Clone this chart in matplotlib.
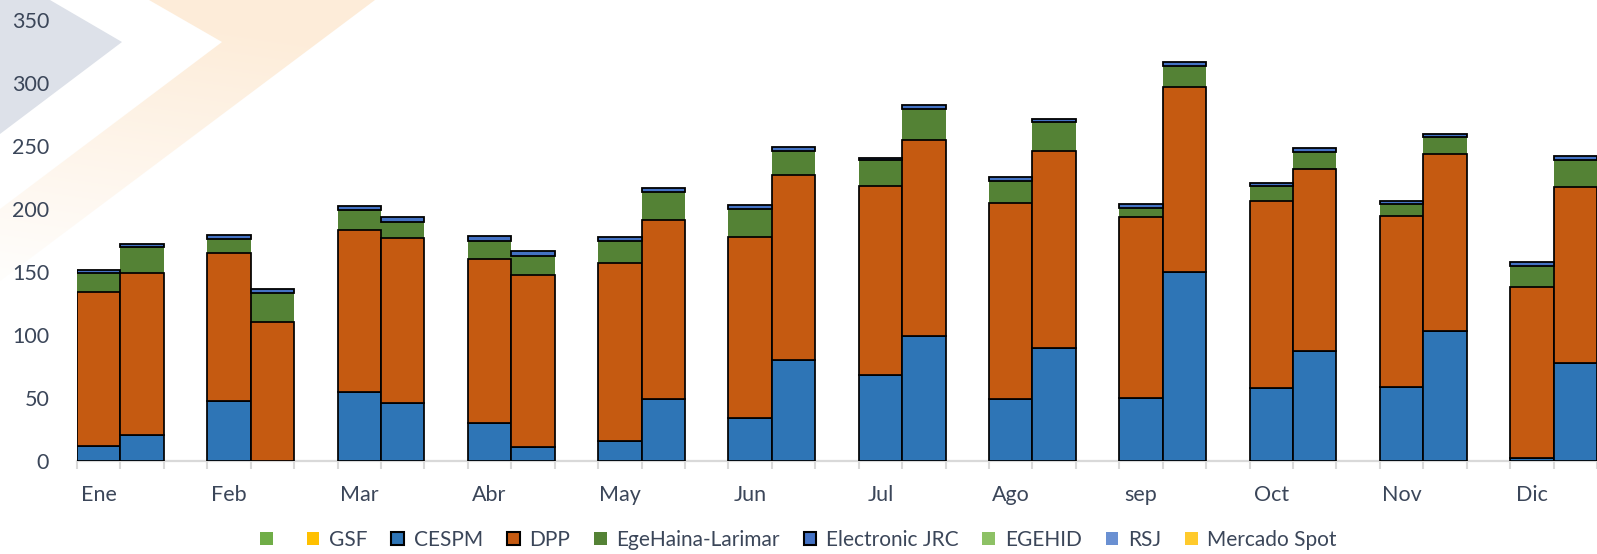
import numpy as np
import matplotlib
matplotlib.use("Agg")
import matplotlib.pyplot as plt
from matplotlib.patches import Polygon, Rectangle

plt.rcParams['font.family'] = ['Lato', 'DejaVu Sans']

# ---------------- data ----------------
months = ['Ene', 'Feb', 'Mar', 'Abr', 'May', 'Jun', 'Jul', 'Ago', 'sep', 'Oct', 'Nov', 'Dic']

cespm_a = [12, 48, 55, 30, 16, 34, 68, 49.5, 50, 58, 59, 2]
dpp_a = [122, 117, 128, 130, 141, 144, 150, 155, 143.5, 148.5, 135.5, 136]
ege_a = [15, 11.5, 16, 15, 18, 22, 21, 17.5, 7, 11.5, 9.5, 17]
jrc_a = [2.8, 2.8, 3.3, 3.3, 2.8, 3.3, 1.5, 3.3, 3.3, 2.8, 2.4, 2.8]

cespm_b = [21, 0, 46, 11.5, 49, 80, 99, 89.5, 150, 87, 103, 78]
dpp_b = [128, 110, 131, 136.5, 142.5, 147, 156, 156.5, 147, 144.5, 140.5, 139.5]
ege_b = [21, 23, 12.5, 15, 22, 19, 24.5, 23, 16.5, 13.5, 14, 21.5]
jrc_b = [2.4, 3.3, 3.8, 3.3, 2.8, 3.3, 3.3, 2.8, 3.3, 3.3, 2.4, 2.8]

legend_labels = ['', 'GSF', 'CESPM', 'DPP', 'EgeHaina-Larimar', 'Electronic JRC',
                 'EGEHID', 'RSJ', 'Mercado Spot']
legend_colors = ['#70AD47', '#FFC000', '#2E75B6', '#C55A11', '#548235', '#4472C4',
                 '#8DC165', '#6A90D2', '#FFCA2C']
legend_edged = [False, False, True, True, False, True, False, False, False]

C_CESPM = '#2E75B6'
C_DPP = '#C55A11'
C_EGE = '#548235'
C_JRC = '#4472C4'
TXT = '#3B4659'

W, H = 1597, 554
fig = plt.figure(figsize=(W / 100, H / 100), dpi=100)

# ---------------- background watermark ----------------
bg = fig.add_axes([0, 0, 1, 1], zorder=-5)
bg.set_xlim(0, W)
bg.set_ylim(H, 0)
bg.axis('off')
bg.add_patch(Polygon([(0, 0), (50, 0), (122, 42), (0, 134)], closed=True,
                     facecolor='#DDE1E9', edgecolor='none'))
band = Polygon([(149, 0), (375, 0), (0, 281), (0, 209), (222, 42)], closed=True,
               facecolor='none', edgecolor='none')
bg.add_patch(band)
gy, gx = np.mgrid[0:300, 0:400]
alpha = np.clip(0.95 - (gy + 0.15 * (400 - gx)) / 380.0, 0.08, 0.8)
img = np.zeros((300, 400, 4))
img[..., 0] = 253 / 255
img[..., 1] = 232 / 255
img[..., 2] = 208 / 255
img[..., 3] = alpha
im = bg.imshow(img, extent=(0, 400, 300, 0), interpolation='bilinear', aspect='auto')
im.set_clip_path(band)

# ---------------- main axes ----------------
left = 77 / W
bottom = (H - 461) / H
height = (461 - 20) / H
ax = fig.add_axes([left, bottom, 1 - left, height])
ax.patch.set_alpha(0)

n = len(months)
xa = np.arange(n) * 3
xb = np.arange(n) * 3 + 1

def stack(x, c, d, g, j):
    c = np.array(c, float); d = np.array(d, float)
    g = np.array(g, float); j = np.array(j, float)
    lw = 1.25
    ax.bar(x, g, width=1.0, bottom=c + d, color=C_EGE, edgecolor='none', zorder=2)
    ax.bar(x, c, width=1.0, color=C_CESPM, edgecolor='black', linewidth=lw, zorder=3)
    ax.bar(x, d, width=1.0, bottom=c, color=C_DPP, edgecolor='black', linewidth=lw, zorder=3)
    ax.bar(x, j, width=1.0, bottom=c + d + g, color=C_JRC, edgecolor='black',
           linewidth=1.3, zorder=4)

stack(xa, cespm_a, dpp_a, ege_a, jrc_a)
stack(xb, cespm_b, dpp_b, ege_b, jrc_b)

ax.set_xlim(-0.5, 3 * n - 1.5)
ax.set_ylim(0, 350)

for s in ['left', 'top', 'right']:
    ax.spines[s].set_visible(False)
ax.spines['bottom'].set_color('#D9D9D9')
ax.spines['bottom'].set_linewidth(1.6)
ax.spines['bottom'].set_zorder(1)

ax.set_yticks(np.arange(0, 351, 50))
ax.tick_params(axis='y', length=0, pad=20, labelsize=15.5, labelcolor=TXT)

ax.set_xticks(np.arange(-0.5, 3 * n - 1, 1.0))
ax.set_xticklabels([])
ax.tick_params(axis='x', which='major', length=6, width=1.5, color='#D9D9D9')
ax.set_xticks(xa, minor=True)
ax.set_xticklabels(months, minor=True)
ax.tick_params(axis='x', which='minor', length=0, pad=17, labelsize=15.5, labelcolor=TXT)

# ---------------- legend ----------------
handles = []
for col, edged in zip(legend_colors, legend_edged):
    handles.append(Rectangle((0, 0), 1, 1, facecolor=col,
                             edgecolor='black' if edged else 'none',
                             linewidth=1.5 if edged else 0))
leg = fig.legend(handles, legend_labels, loc='center', bbox_to_anchor=(0.5, 1 - 540 / H),
                 ncol=len(legend_labels), frameon=False, fontsize=15,
                 handlelength=0.62, handleheight=0.62, handletextpad=0.45,
                 columnspacing=1.15, borderpad=0)
for t in leg.get_texts():
    t.set_color(TXT)

fig.savefig('out.png', dpi=100)
